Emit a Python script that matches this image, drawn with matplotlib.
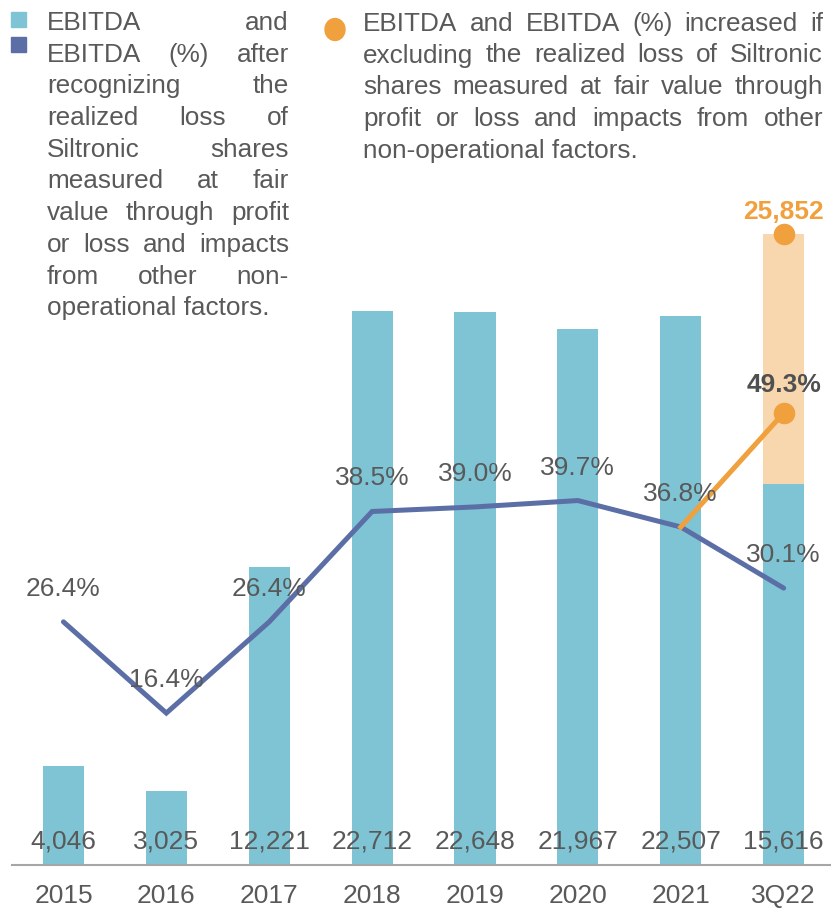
import matplotlib
matplotlib.use("Agg")
import matplotlib.pyplot as plt
from matplotlib.patches import Rectangle, Circle

# data
periods = ["2015", "2016", "2017", "2018", "2019", "2020", "2021", "3Q22"]
ebitda = [4046, 3025, 12221, 22712, 22648, 21967, 22507, 15616]
ebitda_pct = [26.4, 16.4, 26.4, 38.5, 39.0, 39.7, 36.8, 30.1]
adj_ebitda = 25852  # 3Q22 excluding the Siltronic loss
adj_pct = 49.3

legend_left = [
    "EBITDA and",
    "EBITDA (%) after",
    "recognizing the",
    "realized loss of",
    "Siltronic shares",
    "measured at fair",
    "value through profit",
    "or loss and impacts",
    "from other non-",
    "operational factors.",
]
legend_right = [
    "EBITDA and EBITDA (%) increased if",
    "excluding the realized loss of Siltronic",
    "shares measured at fair value through",
    "profit or loss and impacts from other",
    "non-operational factors.",
]

BAR = "#7EC4D4"
LINE = "#5B6FA6"
ORANGE = "#F0A03C"
ORANGE_LIGHT = "#F8D7AE"
GREY = "#595959"
W, H = 831, 910

plt.rcParams["font.family"] = ["Liberation Sans", "DejaVu Sans"]


def px(x, y):
    """pixel position (from top-left) -> figure fraction"""
    return x / W, 1 - y / H


def justify(fig, lines, x0, x1, y0, dy, **kw):
    """Draw a block of justified text, last line left aligned."""
    renderer = fig.canvas.get_renderer()
    for i, line in enumerate(lines):
        y = y0 + i * dy
        words = line.split()
        if i == len(lines) - 1 or len(words) == 1:
            fig.text(*px(x0, y), line, ha="left", va="baseline", **kw)
            continue
        texts = [fig.text(0, 0, w, ha="left", va="baseline", **kw) for w in words]
        widths = [t.get_window_extent(renderer).width for t in texts]
        gap = (x1 - x0 - sum(widths)) / (len(words) - 1)
        x = x0
        for t, w in zip(texts, widths):
            t.set_position(px(x, y))
            x += w + gap


fig = plt.figure(figsize=(W / 100, H / 100), dpi=100)
ax = fig.add_axes([12 / W, 45 / H, (W - 12) / W, 865 / H])
x = list(range(len(periods)))

ax.bar(x, ebitda, width=0.4, color=BAR, zorder=2)
ax.bar([7], [adj_ebitda - ebitda[7]], bottom=[ebitda[7]], width=0.4,
       color=ORANGE_LIGHT, zorder=2)
ax.set_xlim(-0.5, 7.46)
ax.set_ylim(0, 865 / 0.0244)
for i, v in enumerate(ebitda):
    ax.annotate(f"{v:,}", (i, 0), xytext=(0, 16), textcoords="offset pixels",
                ha="center", va="baseline", fontsize=19, color=GREY, zorder=5)
ax.plot([7], [adj_ebitda], "o", color=ORANGE, markersize=14.5, zorder=4)
ax.annotate(f"{adj_ebitda:,}", (7, adj_ebitda), xytext=(0, 15),
            textcoords="offset pixels", ha="center", va="baseline",
            fontsize=19, fontweight="bold", color=ORANGE)

ax.set_xticks(x)
ax.set_xticklabels(periods, fontsize=19, color=GREY)
ax.tick_params(axis="x", length=0, pad=14)
ax.set_yticks([])
for s in ["left", "right", "top"]:
    ax.spines[s].set_visible(False)
ax.spines["bottom"].set_color("#A6A6A6")
ax.spines["bottom"].set_linewidth(1.5)

# percentage line on a second scale
ax2 = ax.twinx()
ax2.set_ylim(-0.26, 94.58)
ax2.axis("off")
ax2.plot(x, ebitda_pct, color=LINE, linewidth=3.6, solid_capstyle="round",
         solid_joinstyle="miter", zorder=3)
ax2.plot([6, 7], [ebitda_pct[6], adj_pct], color=ORANGE, linewidth=3.6, zorder=3)
ax2.plot([7], [adj_pct], "o", color=ORANGE, markersize=14.5, zorder=4)
for i, p in enumerate(ebitda_pct):
    ax2.annotate(f"{p:.1f}%", (i, p), xytext=(0, 26), textcoords="offset pixels",
                 ha="center", va="baseline", fontsize=19, color=GREY, zorder=5)
ax2.annotate(f"{adj_pct:.1f}%", (7, adj_pct), xytext=(0, 21),
             textcoords="offset pixels", ha="center", va="baseline",
             fontsize=19, fontweight="bold", color="#505050", zorder=5)

# legend blocks
fig.patches.append(Rectangle(px(11, 27), 15 / W, 15 / H, transform=fig.transFigure,
                             color=BAR))
fig.patches.append(Rectangle(px(11, 52), 15 / W, 15 / H, transform=fig.transFigure,
                             color=LINE))
fig.patches.append(Circle(px(335, 29.5), 10 / W, transform=fig.transFigure,
                          color=ORANGE))
justify(fig, legend_left, 47, 289, 30, 31.7, fontsize=18.8, color=GREY)
justify(fig, legend_right, 363, 823, 30.7, 31.8, fontsize=18.8, color=GREY)

fig.savefig("out.png", dpi=100)
